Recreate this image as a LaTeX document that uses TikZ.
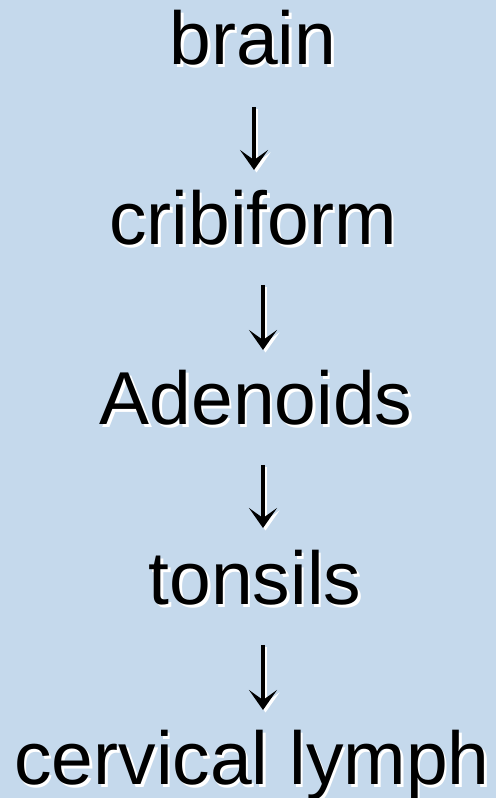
\documentclass[tikz,border=0pt]{standalone}
\usepackage{fontspec}
\setmainfont{Liberation Sans}
\usetikzlibrary{arrows.meta}
\definecolor{bg}{RGB}{197,217,236}
\newcommand\shadowtxt[1]{\makebox[0pt][l]{\hspace{2.5pt}\raisebox{-2.5pt}{\color{white}#1}}#1}
\begin{document}
\begin{tikzpicture}[x=1pt,y=1pt,
  lbl/.style={anchor=base, inner sep=0pt, font=\fontsize{75}{90}\selectfont},
  arr/.style={line width=3.6pt, -{Stealth[length=20pt,width=28pt,inset=10pt]}},
  arrw/.style={arr, draw=white, fill=white, transform canvas={shift={(2.5pt,-2.5pt)}}},
  arrb/.style={arr, draw=black, fill=black}]
\fill[bg] (0,0) rectangle (496,798);
\useasboundingbox (0,0) rectangle (496,798);
\node[lbl] (brain) at (253,733) {\shadowtxt{brain}};
\node[lbl] (crib)  at (253,553) {\shadowtxt{cribiform}};
\node[lbl] (aden)  at (256,373) {\shadowtxt{Adenoids}};
\node[lbl] (tons)  at (255,193) {\shadowtxt{tonsils}};
\node[lbl] (cerv)  at (252,13)  {\shadowtxt{cervical lymph}};
\foreach \s in {arrw,arrb}{
  \draw[\s] ([xshift=1pt,yshift=-42pt]brain.base) -- ([xshift=1pt,yshift=75pt]crib.base);
  \draw[\s] ([xshift=10pt,yshift=-40pt]crib.base) -- ([xshift=7pt,yshift=75pt]aden.base);
  \draw[\s] ([xshift=7pt,yshift=-40pt]aden.base) -- ([xshift=8pt,yshift=77pt]tons.base);
  \draw[\s] ([xshift=8pt,yshift=-40pt]tons.base) -- ([xshift=11pt,yshift=75pt]cerv.base);
}
\end{tikzpicture}
\end{document}
